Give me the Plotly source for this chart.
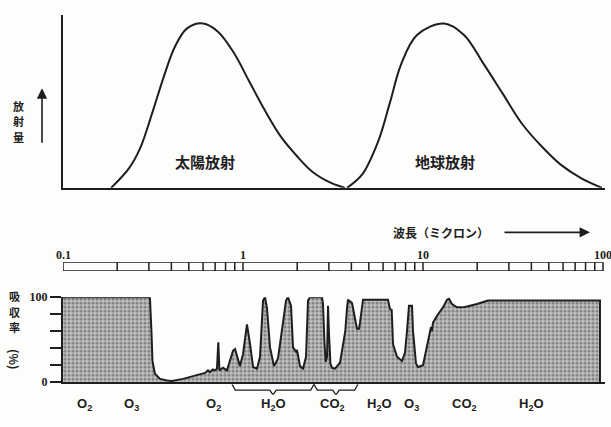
import math
import plotly.graph_objects as go

# ---------------- data ----------------
# Top panel: relative radiation (peak = 1) vs wavelength (micron)
sun_wl = [0.185, 0.233, 0.268, 0.312, 0.364, 0.419, 0.489, 0.600, 0.726, 0.891,
          1.080, 1.325, 1.626, 1.970, 2.417, 3.082, 3.687]
sun_val = [0.0, 0.12, 0.24, 0.45, 0.68, 0.86, 0.97, 1.0, 0.95, 0.82,
           0.65, 0.47, 0.31, 0.20, 0.10, 0.03, 0.0]

earth_wl = [3.783, 4.583, 5.623, 6.556, 7.547, 9.261, 13.09, 16.9, 21.54, 27.83,
            35.48, 45.83, 58.44, 75.47, 98.7]
earth_val = [0.0, 0.08, 0.28, 0.52, 0.75, 0.93, 1.0, 0.93, 0.76, 0.57,
             0.39, 0.25, 0.14, 0.06, 0.0]

# Bottom panel: atmospheric absorption (%) vs wavelength (micron)
abs_wl = [0.100, 0.304, 0.310, 0.314, 0.324, 0.346, 0.378, 0.403, 0.464, 0.555,
          0.615, 0.639, 0.655, 0.681, 0.699, 0.717, 0.729, 0.740, 0.774, 0.815,
          0.847, 0.880, 0.903, 0.926, 0.962, 1.000, 1.052, 1.094, 1.137, 1.196,
          1.243, 1.292, 1.325, 1.359, 1.413, 1.486, 1.565, 1.668, 1.734, 1.778,
          1.848, 1.896, 1.970, 1.995, 2.074, 2.154, 2.239, 2.297, 2.356, 2.747,
          2.783, 2.83, 2.88, 2.93, 2.967, 3.00, 3.06, 3.122, 3.244, 3.459,
          3.70, 3.783, 3.831, 4.033, 4.190, 4.299, 4.411, 4.467, 4.642, 6.391,
          6.556, 6.70, 6.813, 7.171, 7.645, 7.943, 8.149, 8.360, 8.687, 8.799,
          9.144, 9.380, 10.0, 10.66, 11.08, 11.22, 11.36, 12.12, 12.92, 13.59,
          13.95, 14.49, 15.45, 16.47, 17.55, 19.95, 22.97, 96.2, 96.2]
abs_pct = [100, 100, 60, 25, 10, 4, 2, 1.5, 4, 8,
           11, 14, 12, 15, 14, 16, 47, 14, 17, 14,
           27, 37, 39, 30, 19, 33, 68, 45, 18, 16,
           30, 96, 100, 87, 41, 19, 28, 70, 96, 100,
           90, 41, 36, 38, 19, 16, 30, 96, 100, 100,
           92, 50, 24, 30, 90, 60, 22, 17, 16, 23,
           60, 87, 97, 93, 75, 63, 63, 70, 97, 97,
           86, 85, 45, 30, 25, 35, 60, 90, 90, 60,
           22, 18, 20, 50, 65, 60, 70, 80, 88, 97,
           98, 92, 88, 88, 89, 92, 96, 96, 0]

# Wavelength scale bar
scale_ticks = [0.2, 0.3, 0.4, 0.5, 0.6, 0.7, 0.8, 0.9, 1,
               2, 3, 4, 5, 6, 7, 8, 9, 10,
               20, 30, 40, 50, 60, 70, 80, 90]
scale_labels = ["0.1", "1", "10", "100"]
scale_label_vals = [0.1, 1, 10, 100]

# Absorber labels
gas_labels = ["O<sub>2</sub>", "O<sub>3</sub>", "O<sub>2</sub>", "H<sub>2</sub>O", "CO<sub>2</sub>",
              "H<sub>2</sub>O", "O<sub>3</sub>", "CO<sub>2</sub>", "H<sub>2</sub>O"]
gas_wl = [0.131, 0.239, 0.689, 1.47, 3.16, 5.7, 8.6, 16.9, 40.1]

# Braces (band ranges)
brace_lo = [0.869, 2.48]
brace_hi = [2.48, 4.35]

abs_ticks = [0, 20, 40, 60, 80, 100]
abs_ticktext = ["0", "", "", "", "", "100"]

top_ylabel = ["放", "射", "量"]
bot_ylabel = ["吸", "収", "率"]

# ---------------- figure ----------------
W, H = 611, 427
INK = "#1e1e1e"

def py(px):  # paper y from pixel row
    return (H - px) / H

def pxx(px):
    return px / W

fig = go.Figure()

fig.add_trace(go.Scatter(x=sun_wl, y=sun_val, mode="lines", line=dict(color=INK, width=2, shape="spline", smoothing=1.0),
                         xaxis="x", yaxis="y", hoverinfo="skip"))
fig.add_trace(go.Scatter(x=earth_wl, y=earth_val, mode="lines", line=dict(color=INK, width=2, shape="spline", smoothing=1.0),
                         xaxis="x", yaxis="y", hoverinfo="skip"))

# scale bar
bx = [scale_label_vals[0], scale_label_vals[-1], scale_label_vals[-1], scale_label_vals[0], scale_label_vals[0]]
by = [0, 0, 1, 1, 0]
sx, sy = [], []
for t in scale_ticks:
    sx += [t, t, None]
    sy += [0, 1, None]
fig.add_trace(go.Scatter(x=bx + [None] + sx, y=by + [None] + sy, mode="lines",
                         line=dict(color=INK, width=1.5), xaxis="x", yaxis="y2", hoverinfo="skip"))

# absorption
fig.add_trace(go.Scatter(x=abs_wl, y=abs_pct, mode="lines", line=dict(color=INK, width=2),
                         fill="tozeroy", fillcolor="#bdbdbd",
                         fillpattern=dict(shape=".", bgcolor="#c2c2c2", fgcolor="#444444", size=4, solidity=0.5),
                         xaxis="x2", yaxis="y3", hoverinfo="skip"))

# braces
brx, bry = [], []
for lo, hi in zip(brace_lo, brace_hi):
    a, b = math.log10(lo), math.log10(hi)
    m = (a + b) / 2
    w = 0.018
    xs = [a, a + w, m - w, m, m + w, b - w, b]
    ys = [1, 0.45, 0.45, 0, 0.45, 0.45, 1]
    brx += [10 ** v for v in xs] + [None]
    bry += ys + [None]
fig.add_trace(go.Scatter(x=brx, y=bry, mode="lines", line=dict(color=INK, width=1.3),
                         xaxis="x", yaxis="y4", hoverinfo="skip"))

x_dom = [63 / W, 605 / W]
x_rng = [-1, -1 + (605 - 63) / 180]

common_x = dict(type="log", domain=x_dom, range=x_rng, showgrid=False, zeroline=False,
                showticklabels=False, ticks="", showline=True, linecolor=INK, linewidth=2)

fig.update_layout(
    width=W, height=H, autosize=False,
    margin=dict(l=0, r=0, t=0, b=0),
    paper_bgcolor="#fdfdfb", plot_bgcolor="rgba(0,0,0,0)",
    showlegend=False,
    xaxis=dict(anchor="y", **common_x),
    xaxis2=dict(anchor="y3", matches="x", **common_x),
    yaxis=dict(domain=[py(187), py(8)], range=[0, 179 / 170], anchor="x", showgrid=False, zeroline=False,
               showticklabels=False, ticks="", showline=True, linecolor=INK, linewidth=2),
    yaxis2=dict(domain=[py(273), py(264)], range=[0, 1], anchor="x", visible=False),
    yaxis3=dict(domain=[py(388), py(300)], range=[0, 100], anchor="x2", showgrid=False, zeroline=False,
                showline=True, linecolor=INK, linewidth=2, ticks="outside", ticklen=11, tickwidth=1.5,
                tickcolor=INK, tickvals=abs_ticks, ticktext=abs_ticktext,
                tickfont=dict(family="Liberation Serif", size=12, color=INK, weight="bold")),
    yaxis4=dict(domain=[py(401), py(390)], range=[0, 1], anchor="x", visible=False),
)

JP = "Noto Sans CJK JP"
C = dict(xanchor="center", yanchor="middle")
ann = []
for i, ch in enumerate(top_ylabel):
    ann.append(dict(text=ch, x=pxx(18), y=py(102 + 16 * i), xref="paper", yref="paper", showarrow=False,
                    font=dict(family=JP, size=11, color=INK, weight="bold"), **C))
ann.append(dict(text="", x=pxx(42), y=py(84), xref="paper", yref="paper", showarrow=True, ax=0, ay=56,
                arrowhead=2, arrowsize=1.3, arrowwidth=1.6, arrowcolor=INK))
ann.append(dict(text="太陽放射", x=pxx(205), y=py(160), xref="paper", yref="paper", showarrow=False,
                font=dict(family=JP, size=15, color=INK, weight="bold"), **C))
ann.append(dict(text="地球放射", x=pxx(445), y=py(160), xref="paper", yref="paper", showarrow=False,
                font=dict(family=JP, size=15, color=INK, weight="bold"), **C))
ann.append(dict(text="波長（ミクロン）", x=pxx(441), y=py(233), xref="paper", yref="paper", showarrow=False,
                font=dict(family=JP, size=12, color=INK, weight="bold"), **C))
ann.append(dict(text="", x=pxx(590), y=py(233), xref="paper", yref="paper", showarrow=True, ax=-87, ay=0,
                arrowhead=2, arrowsize=1.3, arrowwidth=1.6, arrowcolor=INK))
for i, ch in enumerate(bot_ylabel):
    ann.append(dict(text=ch, x=pxx(15), y=py(299 + 16 * i), xref="paper", yref="paper", showarrow=False,
                    font=dict(family=JP, size=11, color=INK, weight="bold"), **C))
ann.append(dict(text="(%)", x=pxx(15), y=py(365), xref="paper", yref="paper", showarrow=False, textangle=90,
                font=dict(family=JP, size=12, color=INK, weight="bold"), **C))
for lab, v in zip(scale_labels, scale_label_vals):
    ann.append(dict(text=lab, x=math.log10(v), y=py(256), xref="x", yref="paper", showarrow=False,
                    font=dict(family="Liberation Serif", size=12, color=INK, weight="bold"), **C))
for lab, v in zip(gas_labels, gas_wl):
    ann.append(dict(text=lab, x=math.log10(v), y=py(411), xref="x", yref="paper", showarrow=False,
                    font=dict(family="Liberation Sans", size=13, color=INK, weight="bold"), **C))
fig.update_layout(annotations=ann)

fig.write_html("out.html")
